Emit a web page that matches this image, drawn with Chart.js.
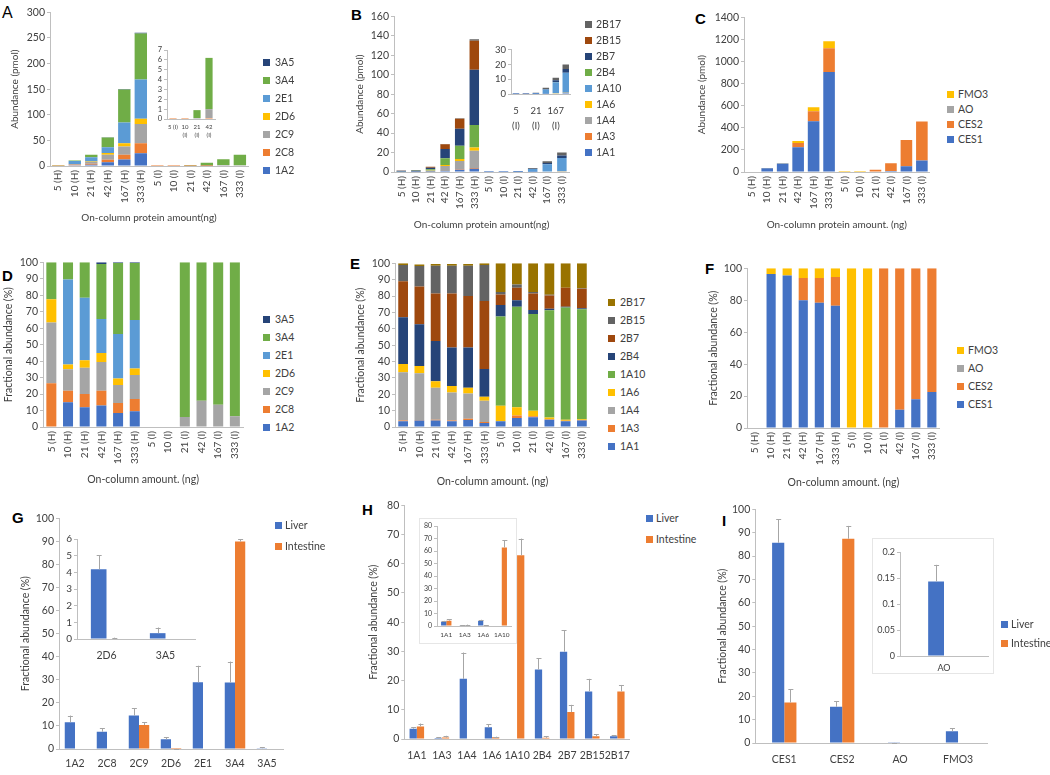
<!DOCTYPE html>
<html>
<head>
<meta charset="utf-8">
<script src="https://cdn.jsdelivr.net/npm/chart.js@4.4.1/dist/chart.umd.min.js"></script>
<style>
body { margin: 0; background: #fff; width: 1050px; height: 775px; position: relative; overflow: hidden; font-family: Lato, "Open Sans", sans-serif; color: #404040; }
canvas { position: absolute; }
.lt { position: absolute; font: bold 15px "Liberation Sans", Arial, sans-serif; line-height: 1; color: #000; }
.lg { position: absolute; font-size: 10.5px; line-height: 12px; white-space: nowrap; }
.lg i { position: absolute; left: 0; top: 2.5px; width: 7px; height: 7px; }
.frame { position: absolute; border: 1px solid #e6e6e6; background: #fff; }
</style>
</head>
<body>
<div class="lt" style="left:2px;top:5px;font-weight:normal;font-size:16px">A</div>
<div class="lt" style="left:351px;top:7px">B</div>
<div class="lt" style="left:695px;top:11px">C</div>
<div class="lt" style="left:2px;top:268px">D</div>
<div class="lt" style="left:350px;top:256px">E</div>
<div class="lt" style="left:705px;top:261px">F</div>
<div class="lt" style="left:12px;top:510px">G</div>
<div class="lt" style="left:362px;top:502px">H</div>
<div class="lt" style="left:722px;top:513px">I</div>
<script>
// ---- categories ----
const doses = ['5 (H)', '10 (H)', '21 (H)', '42 (H)', '167 (H)', '333 (H)', '5 (I)', '10 (I)', '21 (I)', '42 (I)', '167 (I)', '333 (I)'];
const insetDosesA = [['5 (I)'], ['10', '(I)'], ['21', '(I)'], ['42', '(I)']];
const insetDosesB = [['5', '(I)'], ['10', '(I)'], ['21', '(I)'], ['42', '(I)'], ['167', '(I)'], ['333', '(I)']];
const cypA = ['1A2', '2C8', '2C9', '2D6', '2E1', '3A4', '3A5'];
const ugt = ['1A1', '1A3', '1A4', '1A6', '1A10', '2B4', '2B7', '2B15', '2B17'];
const nonCyp = ['CES1', 'CES2', 'AO', 'FMO3'];
const tissues = ['Liver', 'Intestine'];

// ---- A: CYP abundance (pmol) ----
const a1A2 = [0, 1.6, 2.6, 7.3, 12.8, 24.7, 0, 0, 0, 0, 0, 0];
const a2C8 = [0.5, 0.8, 1.8, 5.0, 9.0, 19.5, 0.1, 0.1, 0.05, 0.1, 0, 0];
const a2C9 = [0.7, 1.4, 3.5, 9.8, 16.5, 37.7, 0, 0, 0.05, 0.9, 1.8, 1.4];
const a2D6 = [0.3, 0.3, 1.0, 3.1, 6.0, 10.4, 0, 0, 0, 0, 0, 0];
const a2E1 = [0, 5.6, 8.4, 11.5, 40.5, 76.7, 0, 0, 0, 0, 0, 0];
const a3A4 = [0.5, 1.1, 4.7, 18.8, 64.5, 89.7, 0, 0, 0.8, 5.2, 11.2, 20.6];
const a3A5 = [0, 0, 0, 0.6, 0.8, 1.3, 0, 0, 0, 0, 0, 0];

// ---- B: UGT abundance (pmol) ----
const b1A1 = [0.05, 0.08, 0.22, 1.0, 2.4, 3.4, 0.01, 0.02, 0.05, 0.19, 0.39, 0.8];
const b1A3 = [0.01, 0.01, 0.03, 0.15, 0.4, 0.7, 0, 0.005, 0.004, 0.01, 0.03, 0.06];
const b1A4 = [0.44, 0.57, 1.07, 4.9, 8.6, 17.7, 0, 0, 0, 0, 0, 0];
const b1A6 = [0.08, 0.09, 0.22, 1.2, 1.9, 3.4, 0.03, 0.015, 0.03, 0.04, 0.08, 0.1];
const b1A10 = [0, 0, 0, 0, 0, 0, 0.16, 0.18, 0.47, 2.75, 7.5, 13.4];
const b2B4 = [0.43, 0.51, 1.35, 6.8, 13.6, 23.2, 0.02, 0.01, 0.02, 0.04, 0.06, 0.1];
const b2B7 = [0.33, 0.46, 1.6, 9.6, 17.5, 56.6, 0.02, 0.02, 0.08, 0.34, 1.27, 2.4];
const b2B15 = [0.15, 0.25, 0.94, 4.9, 10.3, 30.0, 0.005, 0.006, 0.01, 0.02, 0, 0.06];
const b2B17 = [0.02, 0.02, 0.06, 0.3, 0.6, 1.4, 0.05, 0.04, 0.14, 0.81, 1.65, 3.04];

// ---- C: non-CYP abundance (pmol) ----
const cCES1 = [0, 35, 76, 224, 459, 906, 0, 0, 0, 9, 52, 103];
const cCES2 = [0, 0, 0, 39, 91, 213, 0, 0, 20, 71, 238, 354];
const cAO = [0, 0, 0, 0, 0, 0, 0, 0, 0, 0, 0, 0];
const cFMO3 = [0, 1.3, 3.5, 17, 35, 65, 0.5, 0.5, 0, 0, 0, 0];

// ---- D: CYP fractions (%) ----
const d1A2 = [0, 15, 12, 13, 8.5, 9.5, 0, 0, 0, 0, 0, 0];
const d2C8 = [26.5, 7, 8, 9, 6, 7.5, 0, 0, 0, 0, 0, 0];
const d2C9 = [37, 13, 16, 17.5, 11, 14.5, 0, 0, 6, 16, 13.5, 6.5];
const d2D6 = [14, 3, 4.5, 5.5, 4, 4, 0, 0, 0, 0, 0, 0];
const d2E1 = [0, 51.5, 38, 20.5, 27, 29.5, 0, 0, 0, 0, 0, 0];
const d3A4 = [22.5, 10.5, 21.5, 33.5, 43, 34.5, 0, 0, 94, 84, 86.5, 93.5];
const d3A5 = [0, 0, 0, 1, 0.5, 0.5, 0, 0, 0, 0, 0, 0];

// ---- E: UGT fractions (%) ----
const e1A1 = [3.5, 4, 4, 3.5, 4.3, 2.5, 3.5, 5.5, 6, 4.5, 3.5, 4];
const e1A3 = [0.5, 0.3, 0.5, 0.5, 0.7, 0.5, 0, 1.5, 0.5, 0.3, 0.3, 0.3];
const e1A4 = [29.5, 28.5, 19.5, 17, 15.5, 13, 0, 0, 0, 0, 0, 0];
const e1A6 = [5, 4.5, 4, 4, 3.5, 2.5, 9.5, 5, 3.5, 1, 0.7, 0.5];
const e1A10 = [0, 0, 0, 0, 0, 0, 54.5, 61.5, 59, 65.5, 68.5, 67.2];
const e2B4 = [28.5, 25.5, 24.5, 23.5, 24.5, 17, 7, 4, 2.5, 1, 0.5, 0.5];
const e2B7 = [22, 23, 29, 33, 31.5, 41.5, 6.5, 7.5, 10, 8, 11.5, 12];
const e2B15 = [10, 12.5, 17, 17, 18.5, 22, 1.5, 2, 1, 0.5, 0, 0.3];
const e2B17 = [1, 1, 1, 1, 1, 1, 17.5, 13, 17.5, 19.2, 15, 15.2];

// ---- F: non-CYP fractions (%) ----
const fCES1 = [0, 96.5, 95.5, 80, 78.5, 76.5, 0, 0, 0, 11.5, 18, 22.5];
const fCES2 = [0, 0, 0, 14, 15.5, 18, 0, 0, 100, 88.5, 82, 77.5];
const fAO = [0, 0, 0, 0, 0, 0, 0, 0, 0, 0, 0, 0];
const fFMO3 = [0, 3.5, 4.5, 6, 6, 5.5, 100, 100, 0, 0, 0, 0];

// ---- G/H/I: liver vs intestine (%) with SD ----
const gLiver = [11.6, 7.5, 14.5, 4.18, 28.9, 28.8, 0.35];
const gLiverSd = [2.9, 1.5, 3.1, 0.84, 7.2, 9.1, 0.34];
const gInt = [0, 0, 10.4, 0.03, 0, 89.9, 0];
const gIntSd = [0, 0, 1.2, 0.05, 0, 1.1, 0];
const hLiver = [3.5, 0.3, 20.6, 4.0, 0, 23.8, 29.9, 16.3, 0.9];
const hLiverSd = [0.6, 0.3, 9.0, 1.0, 0, 3.8, 7.4, 4.3, 0.4];
const hInt = [4.3, 0.5, 0, 0.6, 62.9, 0.4, 9.2, 0.9, 16.3];
const hIntSd = [1.0, 0.6, 0, 0.2, 5.7, 0.6, 2.5, 0.8, 2.2];
const iLiver = [85.7, 15.5, 0.144, 5.0];
const iLiverSd = [10, 2.3, 0.032, 1.4];
const iInt = [17.3, 87.4, 0, 0];
const iIntSd = [5.7, 5.5, 0, 0];

// inset picks
const gInsetIdx = [3, 6];
const hInsetIdx = [0, 1, 3, 4];
const iInsetIdx = [2];

const BLUE = '#4472C4', ORANGE = '#ED7D31', GRAY = '#A5A5A5', YELLOW = '#FFC000', LBLUE = '#5B9BD5',
  GREEN = '#70AD47', DBLUE = '#264478', BROWN = '#9E480E', DGRAY = '#636363', OLIVE = '#997300';
const axisColor = '#bfbfbf';

Chart.defaults.font.family = 'Lato, "Open Sans", sans-serif';
Chart.defaults.color = '#404040';

const pick = (arr, idx) => idx.map(i => arr[i]);

// error bars (up only) drawn from the y scale
const errorBars = {
  id: 'errorBars',
  afterDatasetsDraw(chart) {
    const ctx = chart.ctx, y = chart.scales.y;
    chart.data.datasets.forEach((ds, i) => {
      if (!ds.errors) return;
      chart.getDatasetMeta(i).data.forEach((bar, j) => {
        const e = ds.errors[j];
        if (!e) return;
        const top = y.getPixelForValue(ds.data[j] + e);
        ctx.save();
        ctx.strokeStyle = '#a6a6a6';
        ctx.lineWidth = 1;
        ctx.beginPath();
        ctx.moveTo(Math.round(bar.x) + 0.5, bar.y);
        ctx.lineTo(Math.round(bar.x) + 0.5, top);
        ctx.moveTo(bar.x - 2, Math.round(top) + 0.5);
        ctx.lineTo(bar.x + 3, Math.round(top) + 0.5);
        ctx.stroke();
        ctx.restore();
      });
    });
  }
};

function barPanel(o) {
  const left = o.L - o.yW, top = o.T - o.padT;
  const cv = document.createElement('canvas');
  cv.width = Math.round(o.R + 3 - left);
  cv.height = Math.round(o.B + o.xH - top);
  cv.style.left = left + 'px';
  cv.style.top = top + 'px';
  document.body.appendChild(cv);

  const sets = o.series.map((d, i) => ({
    label: o.names[i], data: d, errors: o.errs ? o.errs[i] : null,
    backgroundColor: o.colors[i], borderWidth: 0,
    barPercentage: o.bar, categoryPercentage: o.cat
  }));
  const xTicks = {autoSkip: false, maxRotation: o.rot || 0, minRotation: o.rot || 0, padding: o.xPad,
    font: {size: o.xSize, lineHeight: o.xLh || 1.2}, color: '#404040'};
  if (o.xCb) xTicks.callback = o.xCb;

  return new Chart(cv, {
    type: 'bar',
    data: {labels: o.labels, datasets: sets},
    options: {
      responsive: false,
      animation: false,
      layout: {padding: {top: o.padT, right: 3, left: 0, bottom: 0}},
      plugins: {legend: {display: false}, tooltip: {enabled: false}},
      scales: {
        x: {
          stacked: !!o.stacked,
          grid: {display: false, drawTicks: false},
          border: {color: axisColor},
          ticks: xTicks,
          title: {display: !!o.xTitle, text: o.xTitle || '', padding: 0, font: {size: o.titleSize || 10}},
          afterFit: s => { s.height = o.xH; }
        },
        y: {
          stacked: !!o.stacked,
          min: 0, max: o.yMax,
          grid: {display: true, drawOnChartArea: false, tickLength: 3, color: axisColor},
          border: {color: axisColor},
          ticks: {stepSize: o.yStep, padding: 2, autoSkip: false, font: {size: o.ySize}, color: '#404040',
            callback: v => String(Math.round(v * 100) / 100)},
          title: {display: !!o.yTitle, text: o.yTitle || '', padding: 0, font: {size: o.titleSize || 10}},
          afterFit: s => { s.width = o.yW; }
        }
      }
    },
    plugins: [errorBars]
  });
}

function legend(sqX, txtX, y0, step, names, colors, reverse) {
  const order = names.map((n, i) => i);
  if (reverse) order.reverse();
  order.forEach((i, k) => {
    const d = document.createElement('div');
    d.className = 'lg';
    d.style.left = sqX + 'px';
    d.style.top = (y0 + k * step - 6) + 'px';
    d.innerHTML = '<i style="background:' + colors[i] + '"></i><span style="position:absolute;left:' +
      (txtX - sqX) + 'px">' + names[i] + '</span>';
    document.body.appendChild(d);
  });
}

function frame(l, t, r, b) {
  const d = document.createElement('div');
  d.className = 'frame';
  d.style.cssText = 'left:' + l + 'px;top:' + t + 'px;width:' + (r - l) + 'px;height:' + (b - t) + 'px';
  document.body.appendChild(d);
}

const cypColors = [BLUE, ORANGE, GRAY, YELLOW, LBLUE, GREEN, DBLUE];
const ugtColorsB = [BLUE, ORANGE, GRAY, YELLOW, LBLUE, GREEN, DBLUE, BROWN, DGRAY];
const ugtColorsE = [BLUE, ORANGE, GRAY, YELLOW, GREEN, DBLUE, BROWN, DGRAY, OLIVE];
const nonColors = [BLUE, ORANGE, GRAY, YELLOW];
const tisColors = [BLUE, ORANGE];

const aSeries = [a1A2, a2C8, a2C9, a2D6, a2E1, a3A4, a3A5];
const bSeries = [b1A1, b1A3, b1A4, b1A6, b1A10, b2B4, b2B7, b2B15, b2B17];

// A
barPanel({L: 50, T: 12, R: 253, B: 166, yW: 41, xH: 58, padT: 8, labels: doses, names: cypA,
  series: aSeries, colors: cypColors, stacked: true, yMax: 300, yStep: 50, bar: 0.75, cat: 1,
  rot: 90, xPad: 4, xSize: 10, ySize: 10.5, yTitle: 'Abundance (pmol)', xTitle: 'On-column protein amount(ng)'});
legend(263, 275, 62, 18, cypA, cypColors, true);
// A inset
barPanel({L: 167, T: 50, R: 215, B: 119, yW: 18, xH: 24, padT: 7, labels: insetDosesA, names: cypA,
  series: aSeries.map(s => s.slice(6, 10)), colors: cypColors, stacked: true, yMax: 7, yStep: 1,
  bar: 0.6, cat: 1, xPad: 4, xSize: 6, xLh: 1.35, ySize: 7.5});

// B
barPanel({L: 394, T: 16, R: 575, B: 172, yW: 40, xH: 59, padT: 8, labels: doses, names: ugt,
  series: bSeries, colors: ugtColorsB, stacked: true, yMax: 160, yStep: 20, bar: 0.65, cat: 1,
  rot: 90, xPad: 4, xSize: 10, ySize: 10.5, yTitle: 'Abundance (pmol)', xTitle: 'On-column protein amount(ng)'});
legend(585, 596, 24, 16, ugt, ugtColorsB, true);
// B inset
barPanel({L: 511, T: 48, R: 572, B: 94, yW: 16, xH: 38, padT: 6, labels: insetDosesB, names: ugt,
  series: bSeries.map(s => s.slice(6, 12)), colors: ugtColorsB, stacked: true, yMax: 30, yStep: 10,
  bar: 0.65, cat: 1, xPad: 9, xSize: 9.5, xLh: 1.58, ySize: 9.5,
  xCb: function (v, i) { return i % 2 === 0 ? this.getLabelForValue(v) : ''; }});

// C
barPanel({L: 744, T: 17, R: 935, B: 172, yW: 48, xH: 59, padT: 8, labels: doses, names: nonCyp,
  series: [cCES1, cCES2, cAO, cFMO3], colors: nonColors, stacked: true, yMax: 1400, yStep: 200,
  bar: 0.75, cat: 1, rot: 90, xPad: 4, xSize: 10, ySize: 10.5,
  yTitle: 'Abundance (pmol)', xTitle: 'On-column protein amount. (ng)'});
legend(947, 958, 94, 15, nonCyp, nonColors, true);

// D
barPanel({L: 43, T: 262, R: 248, B: 427, yW: 41, xH: 59, padT: 8, labels: doses, names: cypA,
  series: [d1A2, d2C8, d2C9, d2D6, d2E1, d3A4, d3A5], colors: cypColors, stacked: true, yMax: 100, yStep: 10,
  bar: 0.6, cat: 1, rot: 90, xPad: 4, xSize: 10, ySize: 10.5,
  yTitle: 'Fractional abundance (%)', xTitle: 'On-column amount. (ng)', titleSize: 10.5});
legend(263, 275, 319, 18, cypA, cypColors, true);

// E
barPanel({L: 395, T: 263, R: 595, B: 427, yW: 41, xH: 61, padT: 8, labels: doses, names: ugt,
  series: [e1A1, e1A3, e1A4, e1A6, e1A10, e2B4, e2B7, e2B15, e2B17], colors: ugtColorsE, stacked: true,
  yMax: 100, yStep: 10, bar: 0.6, cat: 1, rot: 90, xPad: 4, xSize: 10, ySize: 10.5,
  yTitle: 'Fractional abundance (%)', xTitle: 'On-column amount. (ng)', titleSize: 10.5});
legend(608, 620, 302, 18, ugt, ugtColorsE, true);

// F
barPanel({L: 747, T: 268, R: 945, B: 428, yW: 40, xH: 61, padT: 8, labels: doses, names: nonCyp,
  series: [fCES1, fCES2, fAO, fFMO3], colors: nonColors, stacked: true, yMax: 100, yStep: 20,
  bar: 0.57, cat: 1, rot: 90, xPad: 4, xSize: 10, ySize: 10.5,
  yTitle: 'Fractional abundance (%)', xTitle: 'On-column amount. (ng)', titleSize: 10.5});
legend(957, 968, 350, 18, nonCyp, nonColors, true);

// G
barPanel({L: 59, T: 518, R: 283, B: 749, yW: 40, xH: 25, padT: 8, labels: cypA, names: tissues,
  series: [gLiver, gInt], errs: [gLiverSd, gIntSd], colors: tisColors, yMax: 100, yStep: 10,
  bar: 1, cat: 0.64, xPad: 8, xSize: 10.5, ySize: 10.5, yTitle: 'Fractional abundance (%)', titleSize: 10.5});
legend(275, 285, 525, 21, tissues, tisColors, false);
barPanel({L: 77, T: 537, R: 195, B: 639, yW: 14, xH: 25, padT: 6, labels: pick(cypA, gInsetIdx), names: tissues,
  series: [pick(gLiver, gInsetIdx), pick(gInt, gInsetIdx)], errs: [pick(gLiverSd, gInsetIdx), pick(gIntSd, gInsetIdx)],
  colors: tisColors, yMax: 6, yStep: 1, bar: 1, cat: 0.53, xPad: 10, xSize: 10.5, ySize: 10});

// H
barPanel({L: 404, T: 505, R: 637, B: 739, yW: 37.3, xH: 26, padT: 8, labels: ugt, names: tissues,
  series: [hLiver, hInt], errs: [hLiverSd, hIntSd], colors: tisColors, yMax: 80, yStep: 10,
  bar: 1, cat: 0.58, xPad: 10, xSize: 10.5, ySize: 10.5, yTitle: 'Fractional abundance (%)', titleSize: 10.5});
legend(646, 656, 518, 21, tissues, tisColors, false);
frame(419, 518, 515, 642);
barPanel({L: 437, T: 526, R: 512, B: 626, yW: 16, xH: 14, padT: 6, labels: pick(ugt, hInsetIdx), names: tissues,
  series: [pick(hLiver, hInsetIdx), pick(hInt, hInsetIdx)], errs: [pick(hLiverSd, hInsetIdx), pick(hIntSd, hInsetIdx)],
  colors: tisColors, yMax: 80, yStep: 10, bar: 1, cat: 0.56, xPad: 5, xSize: 6.5, ySize: 7});

// I
barPanel({L: 755, T: 509, R: 987, B: 743, yW: 39.3, xH: 25, padT: 8, labels: nonCyp, names: tissues,
  series: [iLiver, iInt], errs: [iLiverSd, iIntSd], colors: tisColors, yMax: 100, yStep: 10,
  bar: 1, cat: 0.42, xPad: 10, xSize: 10.5, ySize: 10.5, yTitle: 'Fractional abundance (%)', titleSize: 10.5});
legend(1001, 1011, 624, 19, tissues, tisColors, false);
frame(872, 538, 992, 672);
barPanel({L: 900, T: 551, R: 988, B: 656, yW: 24, xH: 18, padT: 6, labels: pick(nonCyp, iInsetIdx), names: tissues,
  series: [pick(iLiver, iInsetIdx), pick(iInt, iInsetIdx)], errs: [pick(iLiverSd, iInsetIdx), pick(iIntSd, iInsetIdx)],
  colors: tisColors, yMax: 0.2, yStep: 0.05, bar: 1, cat: 0.36, xPad: 7, xSize: 9, ySize: 9});
</script>
</body>
</html>
